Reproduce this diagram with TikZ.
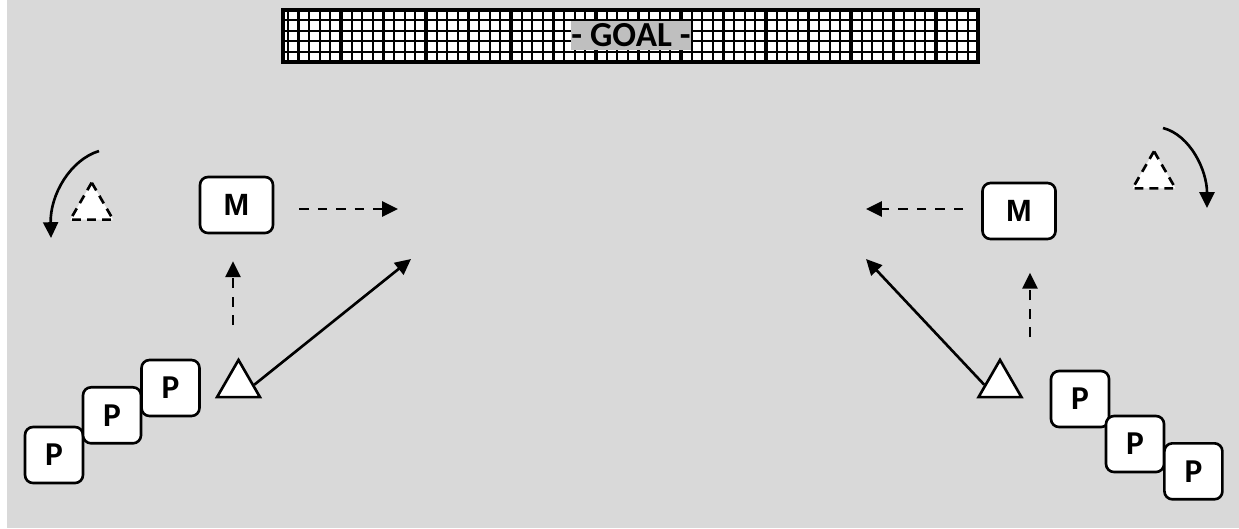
\documentclass[tikz,border=0pt]{standalone}
\usepackage{fontspec}
\setmainfont{Carlito}
\newfontfamily\mfont{Liberation Sans}
\usetikzlibrary{arrows.meta,shapes.geometric}
\definecolor{fieldgray}{HTML}{D9D9D9}
\definecolor{labelgray}{HTML}{BFBFBF}

\begin{document}
\begin{tikzpicture}[x=0.02cm, y=-0.02cm]
			\tikzstyle{every node}=[font=\bfseries\fontsize{19}{21}\selectfont]
			\tikzstyle{player}=[draw, fill=white, rounded corners=0.16cm, line width=1.5pt, minimum width=1.16cm, minimum height=1.12cm, inner sep=0pt]
			\tikzstyle{midfield}=[player, minimum width=1.46cm, font=\mfont\bfseries\fontsize{17.5}{19}\selectfont]
			\tikzstyle{cone}=[draw, fill=white, regular polygon, regular polygon sides=3, minimum size=0.99cm, inner sep=0pt, line width=1.5pt]
			\tikzstyle{oldcone}=[cone, dash pattern=on 5pt off 3.5pt]
			\tikzstyle{run}=[line width=1.5pt, -{Triangle[length=9pt, width=8.5pt]}]
			\tikzstyle{pass}=[run, dash pattern=on 5.5pt off 5pt]
			\tikzstyle{netline}=[line width=1.2pt]

			\useasboundingbox (0, 0) rectangle (1239, 528);
			\fill[white] (0, 0) rectangle (1239, 528);
			\fill[fieldgray] (7, 0) rectangle (1239, 528);

			\coordinate (netnw) at (283, 10);
			\coordinate (netse) at (978, 62);
			\fill[white] (netnw) rectangle (netse);
			\foreach \k in {-5,...,59}
				\draw[netline] ({341+10.625*\k}, 10) -- ++(0, 52);
			\foreach \y in {20.4, 30.8, 41.2, 51.6}
				\draw[netline] (283, \y) -- (978, \y);
			\foreach \x in {341, 426, ..., 938}
				\draw[line width=2.2pt] (\x, 10) -- ++(0, 52);
			\draw[line width=2.2pt] (netnw) rectangle (netse);
			\node[fill=labelgray, minimum width=2cm, minimum height=0.58cm, inner sep=0pt, font=\bfseries\fontsize{20}{22}\selectfont] (goal) at (631, 35.5) {- GOAL -};

			\node[midfield] (lmid) at (236.5, 205) {M};
			\node[midfield] (rmid) at (1019, 211) {M};

			\node[player] (lp1) at (54, 455) {P};
			\node[player] (lp2) at (112, 415.3) {P};
			\node[player] (lp3) at (170.5, 388) {P};
			\node[player] (rp1) at (1080, 399) {P};
			\node[player] (rp2) at (1135, 444) {P};
			\node[player] (rp3) at (1193.4, 471.3) {P};

			\node[cone] (lcone) at (238.5, 384.7) {};
			\node[cone] (rcone) at (1000, 384.7) {};
			\node[oldcone] (lold) at (91.7, 207.3) {};
			\node[oldcone] (rold) at (1154, 176) {};

			\coordinate (lrunend) at (411, 259);
			\coordinate (rrunend) at (866, 259);
			\draw[run] (lcone.east) -- (lrunend);
			\draw[run] (rcone.west) -- (rrunend);

			\coordinate (lpassend) at (398, 209);
			\coordinate (rpassend) at (866, 209);
			\draw[pass, shorten <=0.5cm] (lmid.east |- lpassend) -- (lpassend);
			\draw[pass, shorten <=0.36cm] (rmid.west |- rpassend) -- (rpassend);

			\coordinate (lpassstart) at (233, 325);
			\coordinate (rpassstart) at (1030, 337);
			\draw[pass, shorten >=0.54cm] (lpassstart) -- (lpassstart |- lmid.south);
			\draw[pass, shorten >=0.65cm] (rpassstart) -- (rpassstart |- rmid.south);

			\coordinate (lturnstart) at (99, 151);
			\coordinate (lturnend) at (51, 238);
			\coordinate (rturnstart) at (1163, 128);
			\coordinate (rturnend) at (1207, 208);
			\draw[run] (lturnstart) .. controls (70, 160) and (50, 195) .. (lturnend);
			\draw[run] (rturnstart) .. controls (1190, 135) and (1207, 170) .. (rturnend);
		\end{tikzpicture}
\end{document}
